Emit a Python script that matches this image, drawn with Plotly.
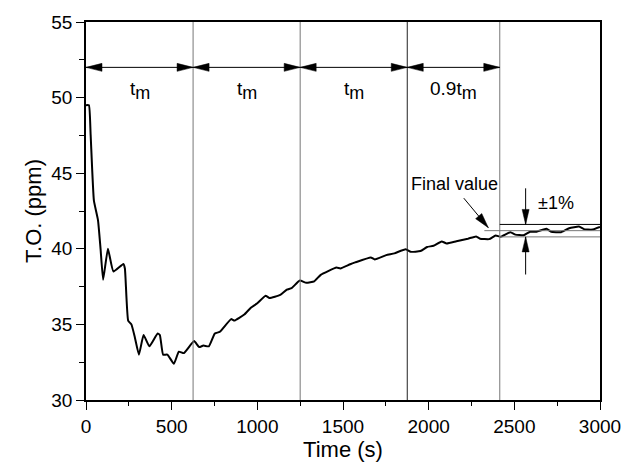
import math
import plotly.graph_objects as go

# Curve data (Time in s, T.O. in ppm)
time_s = [0, 17, 27, 46, 70, 85, 100, 128, 160, 218, 227, 246, 265, 284, 309, 336, 370, 418, 431,
          450, 475, 513, 542, 571, 631, 660, 685, 717, 752, 780, 847, 866, 924, 962, 1000, 1048,
          1071, 1134, 1172, 1200, 1248, 1286, 1332, 1370, 1462, 1485, 1542, 1571, 1662, 1685,
          1752, 1800, 1866, 1895, 1952, 1991, 2028, 2076, 2105, 2162, 2229, 2277, 2300, 2353,
          2391, 2420, 2477, 2506, 2554, 2592, 2630, 2687, 2715, 2773, 2820, 2877, 2906, 2954, 3000]
to_ppm = [49.5, 49.5, 47.55, 43.2, 41.9, 40.0, 37.95, 40.0, 38.5, 39.0, 38.7, 35.25, 35.0, 34.2,
          33.0, 34.3, 33.55, 34.4, 34.3, 33.0, 33.0, 32.4, 33.2, 33.1, 33.9, 33.5, 33.6, 33.55,
          34.4, 34.5, 35.35, 35.25, 35.65, 36.1, 36.4, 36.9, 36.75, 36.95, 37.3, 37.4, 37.9, 37.75,
          37.85, 38.28, 38.76, 38.7, 38.98, 39.1, 39.43, 39.3, 39.58, 39.7, 39.97, 39.8, 39.85,
          40.12, 40.2, 40.49, 40.35, 40.5, 40.67, 40.82, 40.67, 40.64, 40.88, 40.8, 41.1, 40.94,
          40.9, 41.13, 41.13, 41.32, 41.13, 41.1, 41.36, 41.47, 41.3, 41.27, 41.45]

# Interval boundaries (s) and labels
boundaries = [0, 625, 1250, 1875, 2415]
boundary_colors = ["#777777", "#777777", "#222222", "#777777"]
interval_labels = ["t", "t", "t", "0.9t"]
arrow_level = 52.0
label_level = 50.45

final_value = 41.2
band_upper = final_value * 1.01
band_lower = final_value * 0.99

X_RANGE = [0, 3000]
Y_RANGE = [30, 55]
W, H = 633, 466
M = dict(l=86, r=22, t=19, b=62)
px_x = (W - M["l"] - M["r"]) / (X_RANGE[1] - X_RANGE[0])
px_y = (H - M["t"] - M["b"]) / (Y_RANGE[1] - Y_RANGE[0])

FONT = "Liberation Sans, Arial, sans-serif"

fig = go.Figure()
fig.add_trace(go.Scatter(x=time_s, y=to_ppm, mode="lines",
                         line=dict(color="black", width=2, shape="spline", smoothing=0.4),
                         showlegend=False, hoverinfo="skip"))

shapes = []


def line(x0, y0, x1, y1, color="black", width=1):
    shapes.append(dict(type="line", xref="x", yref="y", x0=x0, y0=y0, x1=x1, y1=y1,
                       line=dict(color=color, width=width), layer="above"))


def head(x, y, ux, uy, length=16, half=4):
    # ux, uy: direction (pixel space, y up) in which the head points
    n = math.hypot(ux, uy)
    ux, uy = ux / n, uy / n
    bx, by = -ux * length, -uy * length
    px, py = -uy * half, ux * half
    path = (f"M 0,0 L {bx + px:.2f},{by + py:.2f} L {bx - px:.2f},{by - py:.2f} Z")
    shapes.append(dict(type="path", xref="x", yref="y", xsizemode="pixel", ysizemode="pixel",
                       xanchor=x, yanchor=y, path=path, fillcolor="black",
                       line=dict(color="black", width=0.5), layer="above"))


for b, c in zip(boundaries[1:], boundary_colors):
    shapes.append(dict(type="line", xref="x", yref="paper", x0=b, x1=b, y0=0, y1=1,
                       line=dict(color=c, width=1)))

# band lines
line(boundaries[-1], band_upper, X_RANGE[1], band_upper, "black")
line(2325, final_value, X_RANGE[1], final_value, "#777777")
line(boundaries[-1], band_lower, X_RANGE[1], band_lower, "#777777")

annotations = []
for i in range(len(boundaries) - 1):
    a, b = boundaries[i], boundaries[i + 1]
    line(a, arrow_level, b, arrow_level)
    head(b, arrow_level, 1, 0)
    head(a, arrow_level, -1, 0)
    annotations.append(dict(x=(a + b) / 2, y=label_level, xref="x", yref="y",
                            text=interval_labels[i] + "<sub><span style='font-size:18px'>m</span></sub>",
                            showarrow=False,
                            font=dict(family=FONT, size=19, color="#000000")))

# Final value arrow
fv_tail = (2205, 43.35)
fv_tip = (2348, 41.4)
line(fv_tail[0], fv_tail[1], fv_tip[0], fv_tip[1])
head(fv_tip[0], fv_tip[1], (fv_tip[0] - fv_tail[0]) * px_x, (fv_tip[1] - fv_tail[1]) * px_y,
     length=15, half=4)
annotations.append(dict(x=2149, y=44.3, xref="x", yref="y", text="Final value", showarrow=False,
                        font=dict(family=FONT, size=18, color="#000000")))

# +-1% arrows
band_x = 2566
line(band_x, 44.0, band_x, band_upper)
head(band_x, band_upper, 0, -1, length=15, half=3.5)
line(band_x, 38.3, band_x, band_lower)
head(band_x, band_lower, 0, 1, length=15, half=3.5)
annotations.append(dict(x=2743, y=43.05, xref="x", yref="y", text="±1%", showarrow=False,
                        font=dict(family=FONT, size=18, color="#000000")))

fig.update_layout(
    width=W, height=H,
    margin=M,
    paper_bgcolor="white", plot_bgcolor="white",
    font=dict(family=FONT, color="#000000"),
    shapes=shapes, annotations=annotations,
    xaxis=dict(range=X_RANGE, tickvals=[0, 500, 1000, 1500, 2000, 2500, 3000],
               ticks="outside", ticklen=8, tickwidth=1.3, tickcolor="black",
               minor=dict(dtick=250, ticks="outside", ticklen=4, tickcolor="black", tickwidth=1.3),
               showline=True, linecolor="black", linewidth=1.5, mirror=True,
               showgrid=False, zeroline=False,
               tickfont=dict(family=FONT, size=19, color="#000000"),
               title=dict(text="Time (s)", font=dict(family=FONT, size=22, color="#000000"), standoff=2)),
    yaxis=dict(range=Y_RANGE, tickvals=[30, 35, 40, 45, 50, 55],
               ticks="outside", ticklen=8, tickwidth=1.3, tickcolor="black",
               minor=dict(dtick=2.5, ticks="outside", ticklen=5, tickcolor="black", tickwidth=1.3),
               showline=True, linecolor="black", linewidth=1.5, mirror=True,
               showgrid=False, zeroline=False,
               tickfont=dict(family=FONT, size=19, color="#000000"),
               title=dict(text="T.O. (ppm)", font=dict(family=FONT, size=22, color="#000000"), standoff=4)),
)

fig.write_html("out.html")
